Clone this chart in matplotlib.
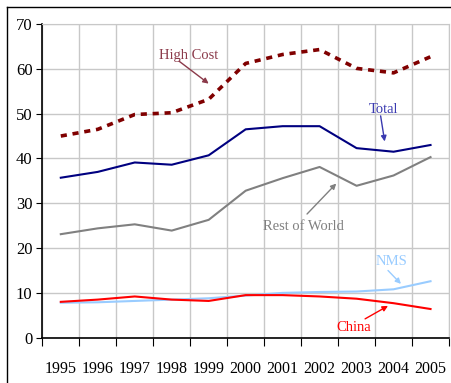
import matplotlib
matplotlib.use("Agg")
import matplotlib.pyplot as plt
import numpy as np
from matplotlib.lines import Line2D

plt.rcParams['font.family'] = ['Liberation Serif', 'DejaVu Serif']

years = ['1995', '1996', '1997', '1998', '1999', '2000',
         '2001', '2002', '2003', '2004', '2005']
high_cost = [45.0, 46.5, 49.8, 50.2, 53.2, 61.2, 63.2, 64.3, 60.1, 59.1, 62.7]
total = [35.7, 37.0, 39.1, 38.6, 40.7, 46.5, 47.2, 47.2, 42.3, 41.5, 43.0]
rest_of_world = [23.1, 24.4, 25.3, 23.9, 26.3, 32.8, 35.6, 38.1, 33.9, 36.2, 40.3]
nms = [7.8, 7.9, 8.2, 8.5, 8.8, 9.4, 10.0, 10.2, 10.3, 10.8, 12.6]
china = [8.0, 8.5, 9.2, 8.5, 8.2, 9.5, 9.5, 9.2, 8.7, 7.7, 6.4]

fig = plt.figure(figsize=(4.51, 3.83), dpi=100)
ax = fig.add_axes([0.0938, 0.1183, 0.9018, 0.819])

x = np.arange(len(years))

ax.plot(x, high_cost, color='#800000', lw=2.6, linestyle=(0, (1.7, 1.6)),
        dash_capstyle='butt')
ax.plot(x, total, color='#000080', lw=1.5)
ax.plot(x, rest_of_world, color='#808080', lw=1.5)
ax.plot(x, nms, color='#99ccff', lw=1.5)
ax.plot(x, china, color='#ff0000', lw=1.5)

ax.set_xlim(-0.5, len(years) - 0.5)
ax.set_ylim(0, 70)
ax.set_yticks(range(0, 71, 10))

# gridlines sit on the category boundaries, labels in the middle of each cell
ax.set_xticks(np.arange(-0.5, len(years), 1.0))
ax.set_xticklabels([])
ax.set_xticks(x, minor=True)
ax.set_xticklabels(years, minor=True)
ax.tick_params(axis='x', which='minor', length=0, pad=17, labelsize=11.5)
ax.tick_params(axis='x', which='major', length=6, direction='out', color='black')
ax.tick_params(axis='y', length=4, direction='out', labelsize=12, pad=3)

ax.grid(True, which='major', color='#c8c8c8', lw=1.0)
ax.set_axisbelow(True)
for side in ['top', 'right']:
    ax.spines[side].set_color('#c8c8c8')
for side in ['left', 'bottom']:
    ax.spines[side].set_color('black')
    ax.spines[side].set_linewidth(1.2)

def label(text, color, xy_text, xy_arrow, xy_tip):
    ax.annotate(text, xy=xy_text, color=color, fontsize=10.5,
                ha='center', va='center')
    ax.annotate('', xy=xy_tip, xytext=xy_arrow,
                arrowprops=dict(arrowstyle='-|>', color=color, lw=1.0,
                                mutation_scale=8, shrinkA=0, shrinkB=0))

label('High Cost', '#8b3a4a', (3.46, 63.0), (3.2, 61.7), (4.0, 56.7))
label('Total', '#3a3ab0', (8.73, 51.0), (8.65, 49.5), (8.76, 43.8))
label('Rest of World', '#808080', (6.55, 24.8), (6.66, 27.6), (7.45, 34.4))
label('NMS', '#99ccff', (8.95, 16.9), (8.85, 15.0), (9.2, 12.0))
label('China', '#ff0000', (7.93, 2.2), (8.23, 4.2), (8.85, 7.1))

# outer frame around the chart
fig.add_artist(Line2D([7 / 451, 7 / 451], [0, 1 - 7 / 383],
                      transform=fig.transFigure, color='black', lw=1.0))
fig.add_artist(Line2D([7 / 451, 1], [1 - 7 / 383, 1 - 7 / 383],
                      transform=fig.transFigure, color='black', lw=1.0))

fig.savefig('out.png', dpi=100)
